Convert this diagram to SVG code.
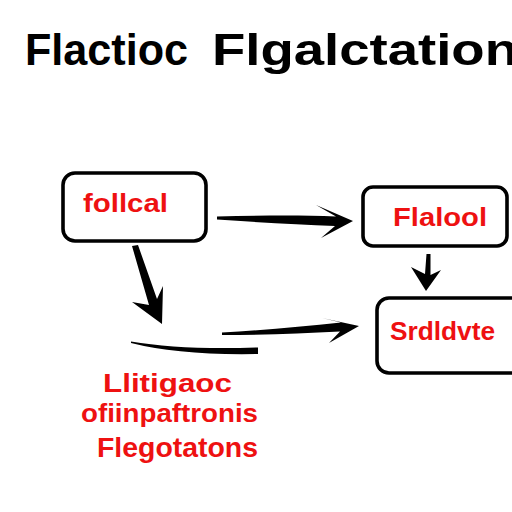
<svg xmlns="http://www.w3.org/2000/svg" width="512" height="512" viewBox="0 0 512 512">
<style>
.box{fill:#fff;stroke:#000;stroke-width:3.6}
.lbl{font-family:"Liberation Sans",Arial,sans-serif;font-weight:bold;fill:#ee1111}
.title{font-family:"Liberation Sans",Arial,sans-serif;font-weight:bold;fill:#000;font-size:45px}
.arr{fill:#000}
</style>
<rect width="512" height="512" fill="#fff"/>
<g id="title">
<text class="title" x="25" y="65" textLength="163" lengthAdjust="spacingAndGlyphs">Flactioc</text>
<text class="title" x="212" y="65" textLength="306" lengthAdjust="spacingAndGlyphs">Flgalctation</text>
</g>
<g id="connectors">
<path class="arr" d="M217,216.5 C260,215.5 300,215 336,216.5 L316,205 L353,221 L321,238 L335,226 C300,224.5 260,222.5 217,219.5 Z"/>
<path class="arr" d="M222,332.5 C262,330.5 302,326.5 341,322.5 L322,318 L359,326 L329,343 L340,331.5 C300,333.5 262,335 222,335 Z"/>
<path class="arr" d="M132,246 L138,245 L157,299 L163,286 L162,324 L132,302 L149,305 Z"/>
<path class="arr" d="M131,341.5 Q180,350 258,347.5 L258,354 Q180,355.5 131,343 Z"/>
<path class="arr" d="M426.5,254 L430.5,254 L430.5,275 L441,270 L426,291 L411,267 L425,274 Z"/>
</g>
<g id="node-follcal">
<rect class="box" x="63" y="173" width="143" height="68" rx="12"/>
<text class="lbl" x="83" y="212" font-size="25" textLength="85" lengthAdjust="spacingAndGlyphs">follcal</text>
</g>
<g id="node-flalool">
<rect class="box" x="363" y="187" width="144" height="59" rx="10"/>
<text class="lbl" x="393" y="226" font-size="26" textLength="94" lengthAdjust="spacingAndGlyphs">Flalool</text>
</g>
<g id="node-srdldvte">
<rect class="box" x="377" y="298" width="150" height="75" rx="12"/>
<text class="lbl" x="390" y="340" font-size="25" textLength="105" lengthAdjust="spacingAndGlyphs">Srdldvte</text>
</g>
<g id="caption">
<text class="lbl" x="103" y="392" font-size="26" textLength="129" lengthAdjust="spacingAndGlyphs">Llitigaoc</text>
<text class="lbl" x="81" y="422" font-size="26" textLength="177" lengthAdjust="spacingAndGlyphs">ofiinpaftronis</text>
<text class="lbl" x="97" y="457" font-size="27" textLength="161" lengthAdjust="spacingAndGlyphs">Flegotatons</text>
</g>
</svg>
